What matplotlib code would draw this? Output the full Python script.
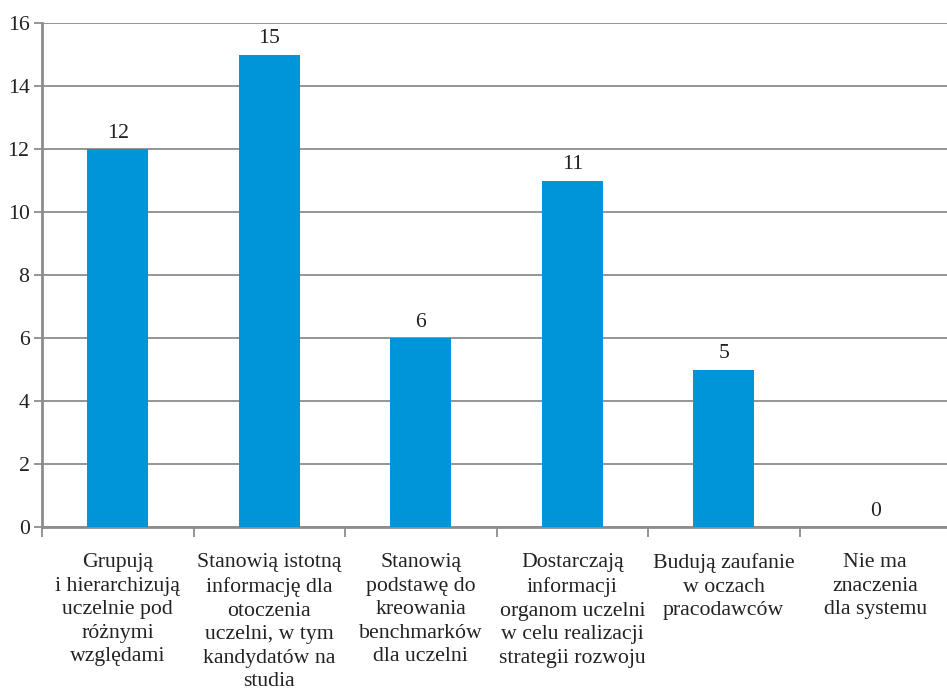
import matplotlib

matplotlib.use("Agg")
import matplotlib.pyplot as plt

categories = [
    "Grupują\ni hierarchizują\nuczelnie pod\nróżnymi\nwzględami",
    "Stanowią istotną\ninformację dla\notoczenia\nuczelni, w tym\nkandydatów na\nstudia",
    "Stanowią\npodstawę do\nkreowania\nbenchmarków\ndla uczelni",
    "Dostarczają\ninformacji\norganom uczelni\nw celu realizacji\nstrategii rozwoju",
    "Budują zaufanie\nw oczach\npracodawców",
    "Nie ma\nznaczenia\ndla systemu",
]
values = [12, 15, 6, 11, 5, 0]
y_ticks = [0, 2, 4, 6, 8, 10, 12, 14, 16]

plt.rcParams["font.family"] = ["Liberation Serif", "DejaVu Serif"]
FS = 15.7

fig = plt.figure(figsize=(9.47, 6.98), dpi=100)
ax = fig.add_axes([42 / 947, 1 - 527 / 698, 909 / 947, 504 / 698])

x = list(range(len(values)))
ax.bar(x, values, width=0.4, color="#0094D9", zorder=3)
for i, v in enumerate(values):
    ax.text(i, v + 0.2, f"{v}", ha="center", va="bottom", fontsize=FS, color="#222222")

ax.set_xlim(-0.5, len(values) - 0.5)
ax.set_ylim(0, 16)
ax.set_yticks(y_ticks)
ax.set_yticklabels([str(t) for t in y_ticks], fontsize=FS, color="#222222")
ax.yaxis.grid(True, color="#8c8c8c", linewidth=1.3, zorder=0)

ax.set_xticks([i + 0.5 for i in range(-1, len(values))])
ax.set_xticklabels([])
ax.set_xticks(x, minor=True)
ax.set_xticklabels(categories, minor=True, fontsize=FS, color="#222222", linespacing=1.32)
ax.tick_params(axis="x", which="minor", length=0, pad=19)
ax.tick_params(axis="x", which="major", length=7, width=1.3, color="#8c8c8c", direction="out")
ax.tick_params(axis="y", length=6, width=1.3, color="#8c8c8c", pad=3)

for side in ("top", "right"):
    ax.spines[side].set_visible(False)
for side in ("left", "bottom"):
    ax.spines[side].set_color("#8c8c8c")
    ax.spines[side].set_linewidth(2)

fig.savefig("out.png", dpi=100)
